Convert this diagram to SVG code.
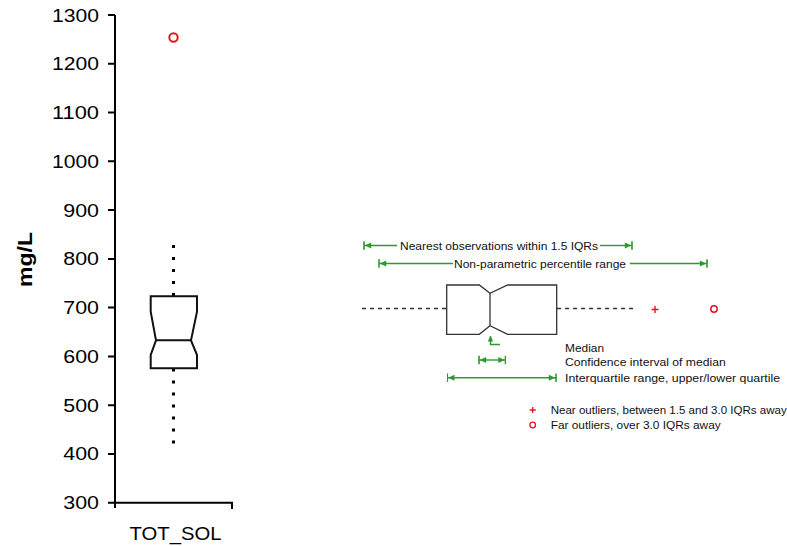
<svg xmlns="http://www.w3.org/2000/svg" width="787" height="546" viewBox="0 0 787 546">
  <style>
    .axis { stroke: #000; stroke-width: 2; fill: none; }
    .tick-label { font-family: "Liberation Sans", Arial, sans-serif; font-size: 19px; fill: #000; text-anchor: end; }
    .title { font-family: "Liberation Sans", Arial, sans-serif; font-size: 20px; font-weight: bold; fill: #000; text-anchor: middle; }
    .cat { font-family: "Liberation Sans", Arial, sans-serif; font-size: 19px; fill: #000; text-anchor: middle; }
    .box { stroke: #111; stroke-width: 2; fill: #fff; stroke-linejoin: miter; }
    .whisker { stroke: #000; stroke-width: 3; stroke-dasharray: 3 9; fill: none; }
    .key-box { stroke: #333; stroke-width: 1.3; fill: #fff; }
    .key-dash { stroke: #333; stroke-width: 1.3; stroke-dasharray: 4 4; fill: none; }
    .green { stroke: #2e9a2e; stroke-width: 1.4; fill: none; }
    .key-text { font-family: "Liberation Sans", Arial, sans-serif; font-size: 11px; fill: #111; }
    .red { stroke: #e8141b; fill: none; }
  </style>
  <defs>
    <!-- arrow tip with stop bar, used on both ends of range arrows -->
    <marker id="tip" viewBox="0 0 9 10" refX="8.2" refY="5" markerWidth="9" markerHeight="10" markerUnits="userSpaceOnUse" orient="auto-start-reverse">
      <path d="M1,2 L7.4,5 L1,8 Z" fill="#2e9a2e"/>
      <rect x="7.4" y="0.8" width="1.6" height="8.4" fill="#2e9a2e"/>
    </marker>
    <!-- plain arrow tip pointing along the path -->
    <marker id="up" viewBox="0 0 6 6" refX="5.5" refY="3" markerWidth="6" markerHeight="6" markerUnits="userSpaceOnUse" orient="auto">
      <path d="M0,0.3 L6,3 L0,5.7 Z" fill="#2e9a2e"/>
    </marker>
  </defs>

  <!-- axes -->
  <g id="axes">
    <path class="axis" d="M115,15 V508 M115,502.7 H232 V509"/>
    <path class="axis" d="M108,15 H115 M108,63.8 H115 M108,112.5 H115 M108,161.3 H115 M108,210.1 H115 M108,258.9 H115 M108,307.6 H115 M108,356.4 H115 M108,405.2 H115 M108,453.9 H115 M108,502.7 H115"/>
    <text class="tick-label" x="99" y="21.5" textLength="47" lengthAdjust="spacingAndGlyphs">1300</text>
    <text class="tick-label" x="99" y="70.3" textLength="47" lengthAdjust="spacingAndGlyphs">1200</text>
    <text class="tick-label" x="99" y="119" textLength="47" lengthAdjust="spacingAndGlyphs">1100</text>
    <text class="tick-label" x="99" y="167.8" textLength="47" lengthAdjust="spacingAndGlyphs">1000</text>
    <text class="tick-label" x="99" y="216.6" textLength="35.7" lengthAdjust="spacingAndGlyphs">900</text>
    <text class="tick-label" x="99" y="265.4" textLength="35.7" lengthAdjust="spacingAndGlyphs">800</text>
    <text class="tick-label" x="99" y="314.1" textLength="35.7" lengthAdjust="spacingAndGlyphs">700</text>
    <text class="tick-label" x="99" y="362.9" textLength="35.7" lengthAdjust="spacingAndGlyphs">600</text>
    <text class="tick-label" x="99" y="411.7" textLength="35.7" lengthAdjust="spacingAndGlyphs">500</text>
    <text class="tick-label" x="99" y="460.4" textLength="35.7" lengthAdjust="spacingAndGlyphs">400</text>
    <text class="tick-label" x="99" y="509.2" textLength="35.7" lengthAdjust="spacingAndGlyphs">300</text>
    <text class="title" transform="translate(32,259.5) rotate(-90)" textLength="55" lengthAdjust="spacingAndGlyphs">mg/L</text>
    <text class="cat" x="175.5" y="540" textLength="92" lengthAdjust="spacingAndGlyphs">TOT_SOL</text>
  </g>

  <!-- notched box for TOT_SOL -->
  <g id="boxplot">
    <path class="whisker" d="M173.5,245 V297 M173.5,368.5 V444"/>
    <path class="box" d="M150.7,296.3 H197 V311.7 L191,340.3 L197,355 V368.3 H150.7 V355 L156,340.3 L150.7,311.7 Z"/>
    <path class="box" d="M156,340.3 H191" fill="none"/>
    <circle class="red" cx="173.5" cy="37.5" r="4.2" stroke-width="2"/>
  </g>

  <!-- key -->
  <g id="key-box">
    <path class="key-dash" d="M362,308.5 H446 M557,308.5 H634"/>
    <path class="key-box" d="M446.7,285 H479.3 L490,293.3 L507.7,285 H556.7 V334.3 H507.7 L490,325.7 L479.3,334.3 H446.7 Z"/>
    <path class="key-box" d="M490,293.3 V325.7" fill="none"/>
    <path class="red" stroke-width="1.4" d="M651.5,309.5 H658.5 M655,306 V313"/>
    <circle class="red" cx="714" cy="309" r="3.2" stroke-width="1.5"/>
  </g>

  <g id="connectors">
    <path class="green" d="M397,245.5 H364" marker-end="url(#tip)"/>
    <path class="green" d="M600,245.5 H632" marker-end="url(#tip)"/>
    <path class="green" d="M453,263.5 H379" marker-end="url(#tip)"/>
    <path class="green" d="M630,263.5 H707" marker-end="url(#tip)"/>
    <path class="green" d="M500,344.5 H490.5 V336" marker-end="url(#up)"/>
    <path class="green" d="M479,360 H505.5" marker-start="url(#tip)" marker-end="url(#tip)"/>
    <path class="green" d="M447.3,377.7 H556" marker-start="url(#tip)" marker-end="url(#tip)"/>
  </g>

  <g id="key-labels">
    <text class="key-text" x="400" y="249.5" textLength="198" lengthAdjust="spacingAndGlyphs">Nearest observations within 1.5 IQRs</text>
    <text class="key-text" x="454" y="267.5" textLength="172" lengthAdjust="spacingAndGlyphs">Non-parametric percentile range</text>
    <text class="key-text" x="565" y="352" textLength="39" lengthAdjust="spacingAndGlyphs">Median</text>
    <text class="key-text" x="565" y="366" textLength="160.7" lengthAdjust="spacingAndGlyphs">Confidence interval of median</text>
    <text class="key-text" x="565" y="381.5" textLength="215" lengthAdjust="spacingAndGlyphs">Interquartile range, upper/lower quartile</text>
  </g>

  <g id="outlier-key">
    <path class="red" stroke-width="1.3" d="M529.7,410 H535.7 M532.7,407 V413"/>
    <circle class="red" cx="532.7" cy="425" r="2.8" stroke-width="1.3"/>
    <text class="key-text" x="550.7" y="414" textLength="236" lengthAdjust="spacingAndGlyphs">Near outliers, between 1.5 and 3.0 IQRs away</text>
    <text class="key-text" x="550.7" y="429" textLength="170" lengthAdjust="spacingAndGlyphs">Far outliers, over 3.0 IQRs away</text>
  </g>
</svg>
